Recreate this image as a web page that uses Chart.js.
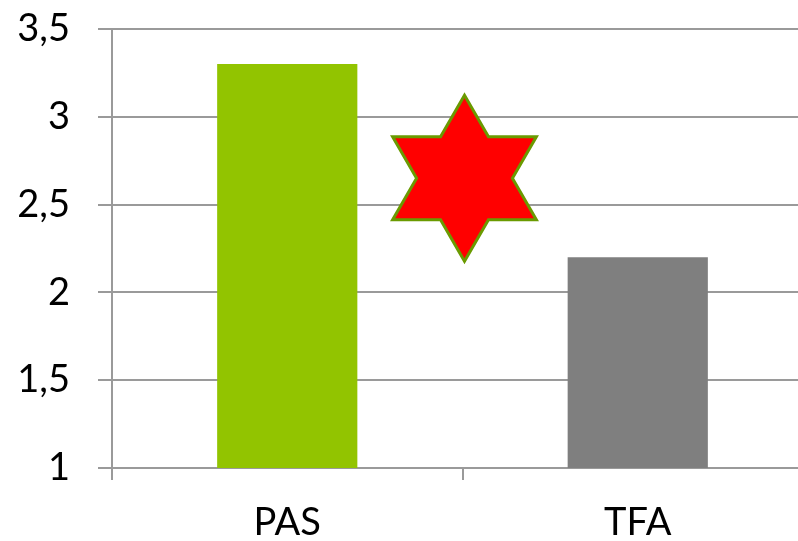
<!DOCTYPE html>
<html>
<head>
<meta charset="utf-8">
<script src="https://cdn.jsdelivr.net/npm/chart.js@4/dist/chart.umd.min.js"></script>
<style>
    html, body { margin: 0; padding: 0; background: #fff; overflow: hidden; }
    /* the plot runs past the right edge in the original, so the canvas is wider than the view */
    #wrap { width: 798px; height: 541px; overflow: hidden; }
</style>
</head>
<body>
<div id="wrap"><canvas id="barChart" width="814" height="541"></canvas></div>
<script>
const categories = ['PAS', 'TFA'];
const values = [3.3, 2.2];
const barColors = ['#92c400', '#7f7f7f'];
const yTickLabels = ['1', '1,5', '2', '2,5', '3', '3,5'];
// star sits between the two categories
const starValue = 2.65;

const starPlugin = {
    id: 'star',
    afterDatasetsDraw(chart) {
        const x = chart.scales.x;
        const y = chart.scales.y;
        const cx = (x.getPixelForValue(0) + x.getPixelForValue(1)) / 2 + 2;
        const cy = y.getPixelForValue(starValue);
        const outer = 83;
        const inner = outer / Math.sqrt(3);
        const ctx = chart.ctx;
        ctx.save();
        ctx.beginPath();
        for (let i = 0; i < 12; i++) {
            const r = i % 2 === 0 ? outer : inner;
            const a = -Math.PI / 2 + i * Math.PI / 6;
            const px = cx + r * Math.cos(a);
            const py = cy + r * Math.sin(a);
            if (i === 0) ctx.moveTo(px, py); else ctx.lineTo(px, py);
        }
        ctx.closePath();
        ctx.fillStyle = '#ff0000';
        ctx.fill();
        ctx.lineWidth = 3;
        ctx.lineJoin = 'miter';
        ctx.strokeStyle = '#6a9a00';
        ctx.stroke();
        ctx.restore();
    }
};

document.addEventListener('DOMContentLoaded', function() {
    const ctx = document.getElementById('barChart').getContext('2d');
    new Chart(ctx, {
        type: 'bar',
        data: {
            labels: categories,
            datasets: [{
                data: values,
                backgroundColor: barColors,
                borderWidth: 0,
                barPercentage: 0.4,
                categoryPercentage: 1
            }]
        },
        options: {
            responsive: false,
            animation: false,
            layout: { padding: { top: 29, left: 0, right: 1, bottom: 0 } },
            plugins: {
                legend: { display: false },
                tooltip: { enabled: false }
            },
            scales: {
                x: {
                    afterFit: function(s) {
                        s.height = 73;
                        s.paddingLeft = 0;
                        s.paddingRight = 0;
                    },
                    grid: {
                        drawOnChartArea: false,
                        drawTicks: true,
                        tickLength: 12,
                        color: '#9a9a9a',
                        lineWidth: 2
                    },
                    border: { color: '#9a9a9a', width: 2 },
                    ticks: {
                        color: '#000',
                        padding: 20,
                        font: { family: 'Lato', size: 38 }
                    }
                },
                y: {
                    min: 1,
                    max: 3.5,
                    afterFit: function(s) {
                        s.width = 112;
                        s.paddingTop = 0;
                        s.paddingBottom = 0;
                    },
                    grid: {
                        color: '#9a9a9a',
                        lineWidth: 2,
                        tickLength: 14
                    },
                    border: { color: '#9a9a9a', width: 2 },
                    ticks: {
                        stepSize: 0.5,
                        color: '#000',
                        padding: 28,
                        font: { family: 'Lato', size: 38 },
                        callback: function(value, index) {
                            return yTickLabels[index];
                        }
                    }
                }
            }
        },
        plugins: [starPlugin]
    });
});
</script>
</body>
</html>
